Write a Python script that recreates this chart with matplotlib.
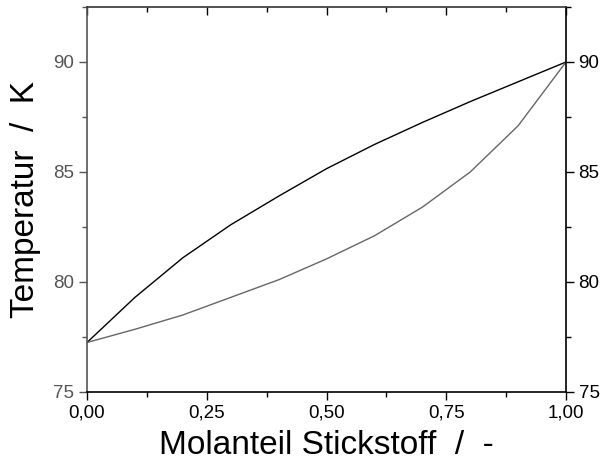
import matplotlib
matplotlib.use("Agg")
import matplotlib.pyplot as plt
from matplotlib.ticker import MultipleLocator, FuncFormatter

plt.rcParams['font.family'] = ['Liberation Sans', 'DejaVu Sans']

# mole fraction and the two boundary curves (K)
x_frac = [0.0, 0.1, 0.2, 0.3, 0.4, 0.5, 0.6, 0.7, 0.8, 0.9, 1.0]
t_dew = [77.25, 79.3, 81.1, 82.6, 83.9, 85.15, 86.25, 87.25, 88.2, 89.1, 90.0]
t_bubble = [77.25, 77.85, 78.5, 79.3, 80.1, 81.05, 82.1, 83.4, 85.0, 87.1, 90.0]

grey = "#555555"

fig = plt.figure(figsize=(6.03, 4.70), dpi=100)
ax = fig.add_axes([87 / 603, 1 - 392 / 470, 479 / 603, 385 / 470])

ax.plot(x_frac, t_dew, color="black", lw=1.0)
ax.plot(x_frac, t_bubble, color="#666666", lw=1.0)

ax.set_xlim(0, 1)
ax.set_ylim(75, 92.5)

comma = FuncFormatter(lambda v, p: f"{v:.2f}".replace(".", ","))
ax.xaxis.set_major_locator(MultipleLocator(0.25))
ax.xaxis.set_minor_locator(MultipleLocator(0.125))
ax.xaxis.set_major_formatter(comma)
ax.yaxis.set_major_locator(MultipleLocator(5))
ax.yaxis.set_minor_locator(MultipleLocator(2.5))

ax.tick_params(axis="both", which="major", direction="out", length=6, width=1,
               labelsize=13.5, pad=3)
ax.tick_params(axis="both", which="minor", direction="out", length=3.5, width=1)
ax.tick_params(axis="y", which="both", color=grey, labelcolor=grey)
ax.tick_params(axis="x", which="both", color="black", labelcolor="black")

ax.spines["left"].set_color(grey)
ax.spines["top"].set_color("#333333")
for s in ax.spines.values():
    s.set_linewidth(1.2)

# top: inward ticks without labels
top = ax.secondary_xaxis("top")
top.xaxis.set_major_locator(MultipleLocator(0.25))
top.xaxis.set_minor_locator(MultipleLocator(0.125))
top.tick_params(which="major", direction="in", length=6, width=1, labeltop=False)
top.tick_params(which="minor", direction="in", length=3.5, width=1)
top.spines["top"].set_visible(False)

# right: outward ticks with black labels
right = ax.secondary_yaxis("right")
right.yaxis.set_major_locator(MultipleLocator(5))
right.yaxis.set_minor_locator(MultipleLocator(2.5))
right.tick_params(which="major", direction="out", length=6, width=1, labelsize=13.5,
                  pad=3, colors="black")
right.tick_params(which="minor", direction="out", length=3.5, width=1, colors="black")
right.spines["right"].set_visible(False)

ax.set_xlabel("Molanteil Stickstoff  /  -", fontsize=24, labelpad=6)
ax.set_ylabel("Temperatur  /  K", fontsize=24, labelpad=9)

fig.savefig("out.png", dpi=100)
